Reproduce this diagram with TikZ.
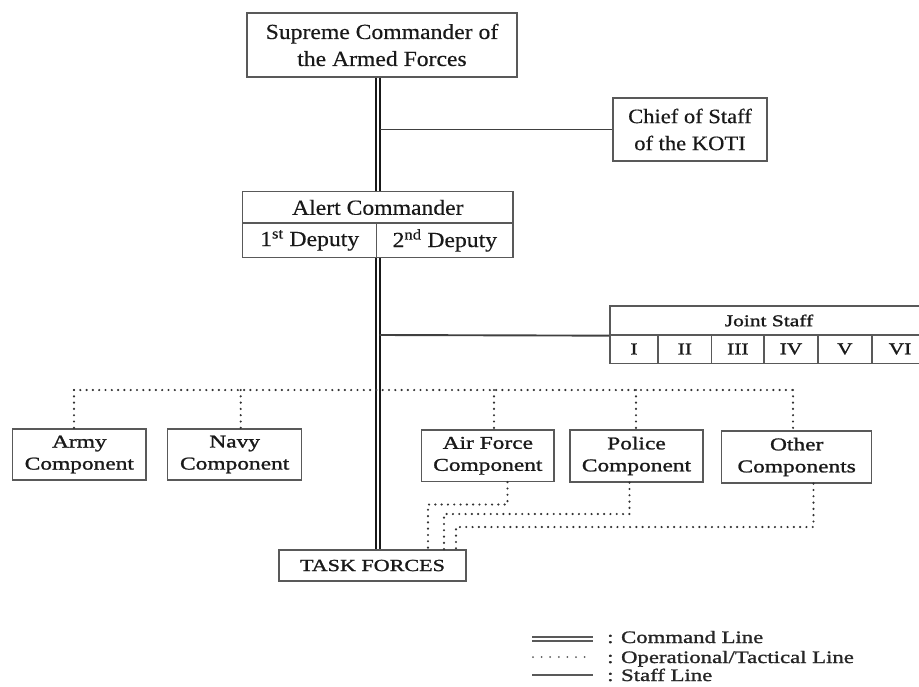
\documentclass[tikz,border=0pt]{standalone}
\usepackage{fontspec}
\setmainfont{Liberation Serif}[FakeStretch=1.1,FakeBold=0.4]
\newfontfamily\lowfont{Liberation Serif}[FakeStretch=1.3,FakeBold=1.3]
\begin{document}
\begin{tikzpicture}[x=1pt,y=-1pt,
  box/.style={draw=black!65,line width=1.3pt,inner sep=0pt,align=center,text=black!90},
  topbox/.style={box,font=\fontsize{21.5}{27}\selectfont},
  compbox/.style={box,font=\lowfont\fontsize{18}{22}\selectfont,minimum height=51pt},
  cell/.style={box,font=\lowfont\fontsize{16.5}{20}\selectfont,minimum height=29pt},
  cmdline/.style={draw=black!90,line width=2pt,double=white,double distance=1.1pt},
  staffline/.style={draw=black!75,line width=1.9pt},
  opline/.style={draw=black!80,line width=2.4pt,line cap=round,dash pattern=on 0pt off 6.3pt},
  legtext/.style={anchor=base west,inner sep=0pt,text=black!85,font=\lowfont\fontsize{17.5}{20}\selectfont}]
\useasboundingbox (0,0) rectangle (919,686);

% command chain
\node[topbox,minimum width=270pt,minimum height=64pt] (sup) at (382,45)
  {Supreme Commander of\\the Armed Forces};
\node[topbox,minimum width=154pt,minimum height=63pt,font=\fontsize{20.5}{27}\selectfont] (koti) at (690,129.5)
  {Chief of Staff\\of the KOTI};
\node[topbox,minimum width=270.3pt,minimum height=31.3pt] (alert) at (377.85,207.4) {Alert Commander};
\node[topbox,minimum width=134pt,minimum height=34.7pt] (dep1) at (309.7,240.35) {1\textsuperscript{st} Deputy};
\node[topbox,minimum width=136.3pt,minimum height=34.7pt] (dep2) at (444.85,240.35) {2\textsuperscript{nd} Deputy};

% joint staff block
\node[cell,minimum width=318pt] (joint) at (769,320.5) {Joint Staff};
\node[cell,minimum width=48pt] (j1) at (634,349) {I};
\node[cell,minimum width=53.7pt] (j2) at (684.85,349) {II};
\node[cell,minimum width=52.3pt] (j3) at (737.85,349) {III};
\node[cell,minimum width=54pt] (j4) at (791,349) {IV};
\node[cell,minimum width=53.7pt] (j5) at (844.85,349) {V};
\node[cell,minimum width=56.3pt] (j6) at (900,349) {VI};

% components
\node[compbox,minimum width=133.3pt] (army) at (79.35,454.5) {Army\\Component};
\node[compbox,minimum width=134pt] (navy) at (234.7,454.5) {Navy\\Component};
\node[compbox,minimum width=132.3pt,minimum height=51.5pt] (af) at (487.85,455.75) {Air Force\\Component};
\node[compbox,minimum width=133pt,minimum height=52pt] (police) at (636.5,456) {Police\\Component};
\node[compbox,minimum width=150pt,minimum height=52pt] (other) at (796.7,457) {Other\\Components};
\node[box,minimum width=187pt,minimum height=31pt,font=\lowfont\fontsize{17}{20}\selectfont] (tf) at (372.5,565.5) {TASK FORCES};

% command line: supreme commander -> alert commander -> task forces
\draw[cmdline] (378,0 |- sup.south) -- (378,0 |- alert.north);
\draw[cmdline] (378,0 |- dep1.south) -- (378,0 |- tf.north);

% staff lines
\draw[staffline] (379.5,0 |- koti.west) -- (koti.west);
\draw[staffline] (379.5,335) -- (joint.south west);

% operational / tactical lines
\coordinate (opl) at (74,390);
\coordinate (opr) at (793,390);
\draw[opline] (opl) -- (opr);
\draw[opline] (opl) -- (opl |- army.north);
\draw[opline] (240.7,390) -- (240.7,0 |- navy.north);
\draw[opline] (494,390) -- (494,0 |- af.north);
\draw[opline] (636,390) -- (636,0 |- police.north);
\draw[opline] (opr) -- (opr |- other.north);

\draw[opline] (507.5,0 |- af.south) -- (507.5,504.5) -- (428,504.5) -- (428,0 |- tf.north);
\draw[opline] (629.5,0 |- police.south) -- (629.5,514) -- (444,514) -- (444,0 |- tf.north);
\draw[opline] (813.5,0 |- other.south) -- (813.5,527) -- (456,527) -- (456,0 |- tf.north);

% legend
\coordinate (lc1) at (532,639); \coordinate (lc2) at (593,639);
\coordinate (lo1) at (533,657); \coordinate (lo2) at (593,657);
\coordinate (ls1) at (532,675); \coordinate (ls2) at (593,675);
\draw[cmdline,draw=black!65] (lc1) -- (lc2);
\draw[draw=black!65,line width=2pt,line cap=round,dash pattern=on 0pt off 8.6pt] (lo1) -- (lo2);
\draw[staffline,draw=black!65] (ls1) -- (ls2);
\node[legtext] (lgc) at (607,643) {: Command Line};
\node[legtext] (lgo) at (607,663) {: Operational/Tactical Line};
\node[legtext] (lgs) at (607,681) {: Staff Line};
\end{tikzpicture}
\end{document}
